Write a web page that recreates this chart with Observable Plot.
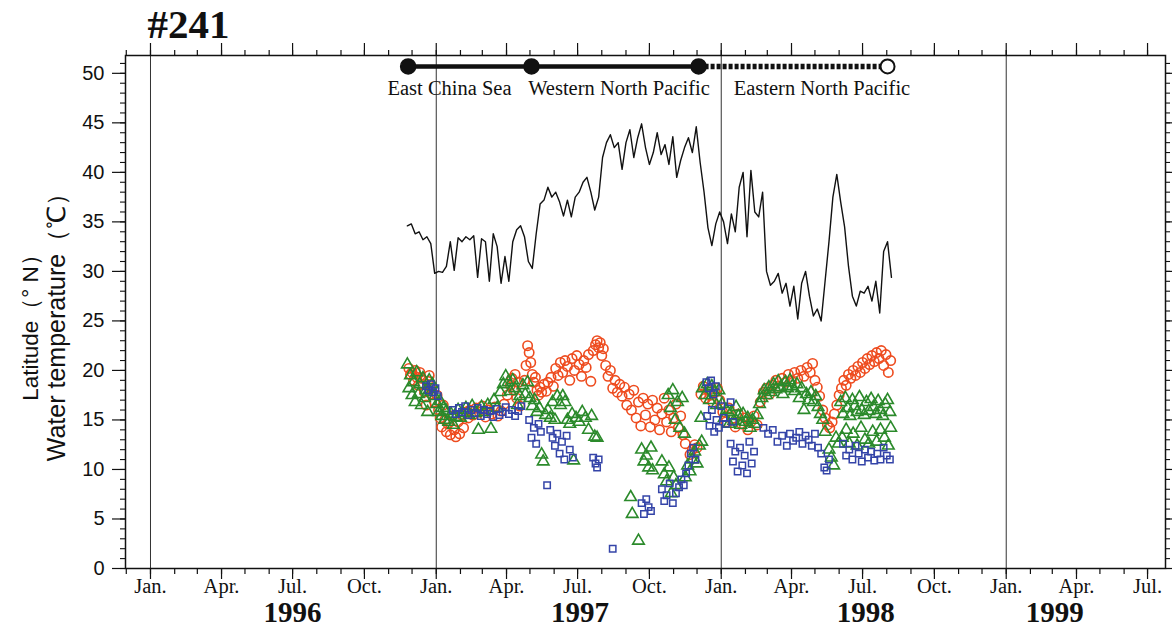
<!DOCTYPE html>
<html><head><meta charset="utf-8">
<script src="https://cdn.jsdelivr.net/npm/d3@7"></script>
<script src="https://cdn.jsdelivr.net/npm/@observablehq/plot@0.6"></script>
<style>
html,body{margin:0;padding:0;background:#fff;}
#chart{width:1172px;height:630px;}
</style></head><body><div id="chart"></div>
<script>
// ---- data ----
const title = "#241";
const yTitleLines = ["Latitude（° N）", "Water temperature（℃）"];
const xDomain = ["1995-11-30", "1999-07-24"];
const yDomain = [0, 51.8];
const yMajorTicks = [0, 5, 10, 15, 20, 25, 30, 35, 40, 45, 50];
const monthLabels = ["Jan.", "Apr.", "Jul.", "Oct."];
const yearLabels = ["1996", "1997", "1998", "1999"];
const yearLabelDates = ["1996-07-01", "1997-07-04", "1998-07-05", "1999-03-04"];
const gridDates = ["1996-01-01", "1997-01-01", "1998-01-01", "1999-01-01"];

const routeNodes = ["1996-11-26", "1997-05-03", "1997-12-03"];
const routeEnd = "1998-08-02";
const routeLat = 50.7;
const regionNames = ["East China Sea", "Western North Pacific", "Eastern North Pacific"];
const regionDates = ["1997-01-18", "1997-08-23", "1998-05-10"];
const regionLabelY = 48.5;

const latStart = "1996-11-25";
const latStepDays = 5;
const latitude = [
 34.6, 34.8, 33.8, 34.0, 33.2, 33.5, 32.8, 29.8, 30.0, 29.9,
 30.5, 33.0, 30.1, 33.4, 33.0, 33.5, 33.2, 33.6, 29.4, 33.3,
 33.0, 29.0, 33.8, 32.5, 28.8, 31.5, 29.0, 33.0, 34.2, 34.6,
 33.5, 31.0, 30.3, 33.8, 36.8, 37.2, 38.5, 37.5, 38.0, 37.0,
 35.6, 37.2, 35.5, 37.5, 38.0, 39.0, 39.5, 38.0, 36.2, 37.5,
 41.5, 43.0, 43.8, 42.5, 43.0, 40.3, 43.0, 44.3, 41.5, 43.5,
 44.9, 42.5, 40.8, 42.0, 44.0, 41.8, 42.8, 40.8, 43.6, 39.5,
 41.2, 42.5, 43.5, 42.0, 44.6, 41.0, 38.0, 34.4, 32.6, 34.8,
 36.0, 35.0, 32.8, 35.8, 34.0, 38.5, 40.0, 33.5, 40.2, 36.0,
 35.5, 38.0, 30.0, 28.6, 29.0, 29.8, 27.8, 28.8, 26.5, 28.5,
 25.2, 28.8, 30.0, 27.5, 25.5, 26.2, 25.0, 29.0, 33.0, 37.5,
 39.8, 37.0, 34.5, 30.5, 27.5, 26.5, 28.0, 27.8, 28.5, 27.0,
 29.0, 25.8, 32.0, 33.0, 29.4
];

// temperature observations: [days since obsStart, °C]
const obsStart = "1996-11-25";
const circleTemps = [
 [2,20.2],[4,19.6],[6,19.8],[8,19.0],[10,20.0],[12,19.3],[14,18.5],[16,19.8],[18,19.2],[20,18.6],[22,17.8],[24,16.5],[26,18.9],[28,19.5],[30,18.2],[32,17.6],
 [35,16.8],[38,17.5],[40,16.0],[42,15.2],[44,14.3],[46,16.5],[48,15.0],[50,13.8],[52,14.6],[55,13.5],[57,15.4],[60,14.0],[62,13.3],[65,14.8],[67,13.6],[70,15.5],[72,14.2],[75,15.8],[78,15.2],[80,16.0],
 [84,15.5],[88,16.2],[92,15.8],[96,16.4],[100,15.3],[104,16.0],[108,15.6],[112,16.3],[116,15.4],[120,15.9],[124,16.6],[128,17.5],[132,18.5],[134,19.2],[136,18.0],[138,19.6],[140,17.2],[142,18.8],[144,16.4],
 [150,19.0],[152,20.5],[154,22.5],[156,21.8],[158,20.8],[160,19.6],[162,18.8],[164,19.3],[166,18.0],[168,17.5],[170,18.3],[172,17.8],[175,18.6],[178,17.9],[180,18.8],
 [184,19.3],[187,18.4],[190,20.2],[193,19.5],[196,20.8],[199,19.8],[202,21.0],[205,20.4],[208,19.0],[211,21.2],[214,20.0],[217,21.5],[220,20.6],[223,19.4],[226,21.0],[229,20.3],[232,21.6],[235,18.9],[238,22.0],[241,22.6],[243,23.0],[245,22.3],[247,22.8],[249,21.5],[251,22.2],
 [254,20.5],[257,19.4],[260,20.0],[263,18.2],[266,19.0],[269,17.8],[272,18.6],[275,17.4],[278,18.3],[281,16.5],[284,17.6],[287,16.0],[290,18.0],[293,15.2],[296,16.8],[299,14.4],[302,17.2],
 [305,15.5],[308,16.6],[311,14.3],[314,17.0],[317,15.0],[320,16.2],[323,14.0],[326,15.6],[329,17.2],[332,14.8],[335,16.0],[338,13.8],[341,15.2],[344,16.6],[347,14.2],[350,15.4],[353,13.5],[356,12.6],
 [362,11.5],[365,12.0],[368,12.5],[371,12.2],
 [376,17.6],[379,18.4],[382,17.2],[385,18.0],[388,17.5],[391,16.8],[394,17.8],[397,18.2],[400,17.0],
 [404,15.8],[408,14.8],[412,16.2],[416,15.0],[420,14.3],[424,15.6],[428,14.6],[432,15.2],[436,14.0],[440,14.8],[444,15.4],[448,14.5],
 [452,16.8],[456,17.8],[460,18.2],[464,17.6],[468,18.5],[472,19.0],[476,18.4],[480,19.2],[484,18.8],[488,19.6],[492,18.9],[496,19.8],[500,19.2],[504,20.0],[508,19.4],[512,20.3],[516,19.8],[519,20.7],[522,19.0],[525,18.3],[528,17.4],
 [532,16.0],[535,15.2],[538,14.5],[541,14.2],[544,14.8],[547,15.6],[550,16.5],
 [553,17.5],[556,18.2],[559,19.0],[562,18.5],[565,19.6],[568,19.2],[571,20.0],[574,19.5],[577,20.4],[580,19.8],[583,20.8],[586,20.2],[589,21.2],[592,20.6],[595,21.5],[598,20.9],[601,21.8],[604,21.2],[607,22.0],[610,20.5],[613,21.6],[616,19.8],[619,21.0]
];
const triangleTemps = [
 [0,20.6],[2,18.2],[4,19.5],[6,17.5],[8,18.8],[10,16.8],[12,19.8],[14,17.6],[16,18.6],[18,16.5],[20,19.2],[22,17.2],[24,18.0],[26,15.8],[28,19.0],[30,17.8],[32,18.6],
 [35,17.4],[38,16.6],[40,15.8],[42,16.9],[44,15.4],[46,16.2],[48,15.0],[50,15.9],[53,14.8],[56,15.6],[59,14.5],[62,15.3],[65,16.0],[68,15.2],[71,15.7],
 [75,16.2],[79,15.5],[83,16.4],[87,15.7],[91,14.0],[95,16.3],[99,15.8],[103,16.5],[107,14.1],[111,17.0],[115,16.2],[119,17.8],[123,18.6],[126,19.4],[129,18.8],[132,17.9],[135,19.0],[138,18.2],[141,16.5],[144,17.4],
 [148,18.5],[151,17.6],[154,18.8],[157,17.2],[160,16.4],[163,17.0],[166,15.8],[169,16.2],[172,11.5],[174,10.8],[177,15.5],[180,16.0],[183,15.2],[186,16.8],[189,15.0],[192,17.4],
 [196,16.5],[199,17.4],[202,16.8],[205,15.0],[208,14.6],[211,15.6],[213,10.9],[216,15.2],[220,14.8],[224,15.8],[228,15.2],[232,14.0],[236,15.4],[240,13.3],[243,13.2],
 [286,7.2],[288,5.5],[296,2.8],
 [300,12.0],[303,10.8],[306,11.4],[309,10.2],[312,12.2],[314,9.9],
 [326,10.8],[329,9.5],[332,8.8],[335,10.2],[338,7.6],[341,9.2],[344,8.4],
 [334,17.5],[337,16.2],[340,18.0],[343,15.0],[346,16.8],[349,14.2],[352,17.2],[355,13.6],
 [356,9.2],[359,10.4],[362,9.8],[365,11.0],[368,11.8],[371,10.6],[374,12.4],[377,12.8],
 [376,15.2],[378,18.2],[381,17.5],[384,18.6],[387,17.0],[390,18.4],[393,17.8],[396,16.5],[399,18.0],
 [403,16.6],[406,15.2],[409,16.0],[412,14.6],[415,15.8],[418,14.9],[421,16.3],[424,15.4],[427,14.5],[430,15.6],[433,14.8],[436,15.2],[439,14.2],[442,15.0],[445,14.6],[448,15.5],[451,16.6],
 [454,17.2],[457,18.0],[460,17.5],[463,18.3],[466,17.8],[469,18.6],[472,18.1],[475,18.9],[478,18.3],[481,17.6],[484,18.8],[487,18.2],[490,19.0],[493,18.4],[496,17.9],[499,18.6],[502,17.2],[505,18.2],[508,16.0],[511,17.6],[514,17.0],[517,17.8],[520,16.8],[523,17.4],[526,16.3],[529,15.6],[532,15.0],[535,13.8],
 [540,12.0],[543,11.2],[546,10.4],[549,13.2],[552,12.6],
 [555,16.8],[558,15.6],[561,17.2],[564,16.2],[567,15.4],[570,17.0],[573,16.4],[576,15.8],[579,17.3],[582,16.0],[585,15.5],[588,16.8],[591,15.9],[594,17.1],[597,16.3],[600,15.6],[603,16.9],[606,16.0],[609,15.4],[612,16.6],[615,17.0],[618,15.8],
 [557,13.2],[562,14.0],[566,12.6],[571,13.6],[576,12.4],[581,14.2],[586,13.0],[591,12.6],[596,13.8],[601,12.8],[606,14.0],[611,13.2],[616,12.4],[619,14.2]
];
const squareTemps = [
 [24,18.4],[27,18.0],[30,18.6],[33,17.8],[36,18.2],[39,17.4],
 [58,16.0],[62,15.6],[66,16.2],[70,15.8],[74,16.4],[78,15.5],[82,16.0],[86,15.7],[90,16.2],[94,15.4],[98,16.0],[102,15.6],[106,15.9],[110,15.3],[114,16.1],[118,15.5],[122,15.8],[126,16.3],[130,15.6],[134,16.0],[138,15.4],[142,15.9],[146,16.4],
 [156,15.0],[159,13.2],[162,14.2],[165,12.6],[168,14.6],[171,13.8],[179,8.4],[183,14.0],[186,13.2],[189,12.4],[192,13.6],[195,11.6],[198,12.8],[201,11.0],[204,13.4],[208,12.0],[212,11.2],
 [238,11.2],[241,10.6],[243,10.2],[245,11.0],
 [263,2.0],
 [300,6.6],[303,5.5],[306,7.0],[309,6.2],[312,5.8],
 [326,8.0],[329,6.8],[332,7.4],[336,8.6],[340,6.6],[344,7.6],
 [348,8.2],[351,9.0],[354,8.4],[357,9.6],[360,10.4],[363,11.6],[366,12.2],[369,11.0],
 [383,18.8],[386,18.2],[389,19.0],[392,17.6],[395,18.4],[384,15.4],[387,14.4],[390,16.0],[393,13.8],[396,15.0],[399,14.2],[402,16.4],[405,15.2],[408,14.6],
 [414,16.8],[417,14.8],
 [414,12.6],[417,10.8],[420,11.8],[423,9.8],[426,12.2],[429,10.4],[432,11.4],[435,9.6],[438,12.8],[441,10.6],[444,11.8],
 [456,14.2],[462,13.6],[468,14.0],[474,12.8],[480,13.4],[486,12.4],[490,13.6],[494,12.9],[498,13.2],[502,13.8],[506,12.6],[510,13.4],[514,13.0],[518,12.4],[522,13.6],[526,12.2],[530,11.6],[534,10.2],[537,9.9],[540,11.0],
 [558,12.6],[562,11.4],[566,12.0],[570,11.0],[574,12.4],[578,11.6],[582,10.8],[586,12.0],[590,11.2],[594,11.8],[598,10.9],[602,11.6],[606,11.0],[610,12.2],[614,11.4],[618,11.0]
];

// ---- build ----
const parse = d3.utcParse("%Y-%m-%d");
const x0 = parse(xDomain[0]), x1 = parse(xDomain[1]);
const months = d3.utcMonth.range(x0, x1);
const quarters = months.filter(d => d.getUTCMonth() % 3 === 0);
const quarterLabels = quarters.map(d => ({date: d, name: monthLabels[d.getUTCMonth() / 3]}));
const latBase = parse(latStart);
const latData = latitude.map((v, i) => ({date: d3.utcDay.offset(latBase, i * latStepDays), v}));
const obsBase = parse(obsStart);
const toPts = arr => arr.map(([d, v]) => ({date: d3.utcDay.offset(obsBase, d), v}));
const circles = toPts(circleTemps), triangles = toPts(triangleTemps), squares = toPts(squareTemps);
const nodes = routeNodes.map(d => ({date: parse(d), v: routeLat}));
const endNode = [{date: parse(routeEnd), v: routeLat}];
const dashed = [nodes[nodes.length - 1], endNode[0]];
const regions = regionNames.map((n, i) => ({name: n, date: parse(regionDates[i]), v: regionLabelY}));
const years = yearLabels.map((y, i) => ({name: y, date: parse(yearLabelDates[i])}));

const ink = "#111";
const serif = "'Liberation Serif', 'Times New Roman', serif";
const sans = "'Liberation Sans', Arial, sans-serif";

const chart = Plot.plot({
  width: 1172, height: 630,
  marginLeft: 125, marginRight: 7, marginTop: 55, marginBottom: 62,
  x: {type: "utc", domain: [x0, x1], label: null},
  y: {domain: yDomain, label: null},
  style: {background: "#fff", color: ink, overflow: "visible"},
  marks: [
    Plot.ruleX(gridDates.map(parse), {stroke: "#333", strokeWidth: 1}),
    Plot.frame({stroke: ink, strokeWidth: 1.5}),
    // bottom axis
    Plot.axisX({anchor: "bottom", ticks: months, tickSize: 6, text: null, tickFormat: () => "", label: null, stroke: ink, strokeWidth: 1.2}),
    Plot.axisX({anchor: "bottom", ticks: quarters, tickSize: 11, text: null, tickFormat: () => "", label: null, stroke: ink, strokeWidth: 1.2}),
    Plot.text(quarterLabels, {x: "date", text: "name", frameAnchor: "bottom", lineAnchor: "middle", dy: 18, fontSize: 20.5, fontFamily: serif, fill: ink}),
    // top axis
    Plot.axisX({anchor: "top", ticks: months, tickSize: 6, text: null, tickFormat: () => "", label: null, stroke: ink, strokeWidth: 1.2}),
    Plot.axisX({anchor: "top", ticks: quarters, tickSize: 13, text: null, tickFormat: () => "", label: null, stroke: ink, strokeWidth: 1.2}),
    // left axis
    Plot.axisY({anchor: "left", ticks: d3.range(0, 52), tickSize: 5, text: null, tickFormat: () => "", label: null, stroke: ink, strokeWidth: 1.1}),
    Plot.axisY({anchor: "left", ticks: yMajorTicks, tickSize: 13, tickPadding: 8, label: null, stroke: ink, strokeWidth: 1.2,
      fontSize: 20, fontFamily: sans, fill: ink}),
    // right axis
    Plot.axisY({anchor: "right", ticks: d3.range(0, 52), tickSize: 4, text: null, tickFormat: () => "", label: null, stroke: ink, strokeWidth: 1.1}),
    Plot.axisY({anchor: "right", ticks: yMajorTicks, tickSize: 7, text: null, tickFormat: () => "", label: null, stroke: ink, strokeWidth: 1.2}),
    // temperatures
    Plot.dot(circles, {x: "date", y: "v", symbol: "circle", r: 4.7, stroke: "#ee4b1e", strokeWidth: 1.6, fill: "none"}),
    Plot.dot(triangles, {x: "date", y: "v", symbol: "triangle", r: 4.3, stroke: "#2b8a2b", strokeWidth: 1.6, fill: "none"}),
    Plot.dot(squares, {x: "date", y: "v", symbol: "square", r: 3.6, stroke: "#3444a8", strokeWidth: 1.5, fill: "none"}),
    // latitude
    Plot.line(latData, {x: "date", y: "v", stroke: ink, strokeWidth: 1.4}),
    // route
    Plot.line(nodes, {x: "date", y: "v", stroke: ink, strokeWidth: 4.5}),
    Plot.line(dashed, {x: "date", y: "v", stroke: ink, strokeWidth: 5.5, strokeDasharray: "4,2", strokeLinecap: "butt"}),
    Plot.dot(nodes, {x: "date", y: "v", r: 7.5, fill: ink, stroke: ink}),
    Plot.dot(endNode, {x: "date", y: "v", r: 7, fill: "#fff", stroke: ink, strokeWidth: 2}),
    Plot.text(regions, {x: "date", y: "v", text: "name", fontFamily: serif, fontSize: 20.5, fill: ink}),
    // year labels
    Plot.text(years, {x: "date", frameAnchor: "bottom", lineAnchor: "middle", dy: 44, text: "name", fontFamily: serif, fontSize: 29, fontWeight: "bold", fill: ink}),
    // title
    Plot.text([title], {frameAnchor: "top-left", lineAnchor: "middle", dx: 22, dy: -31, textAnchor: "start", fontFamily: serif, fontSize: 41, fontWeight: "bold", fill: ink}),
    // y titles
    Plot.text([yTitleLines[0]], {frameAnchor: "left", dx: -95, dy: 10, rotate: -90, textAnchor: "middle", fontFamily: sans, fontSize: 22.5, fill: ink}),
    Plot.text([yTitleLines[1]], {frameAnchor: "left", dx: -69, dy: 9, rotate: -90, textAnchor: "middle", fontFamily: sans, fontSize: 25, fill: ink})
  ]
});
document.getElementById("chart").appendChild(chart);
</script></body></html>
